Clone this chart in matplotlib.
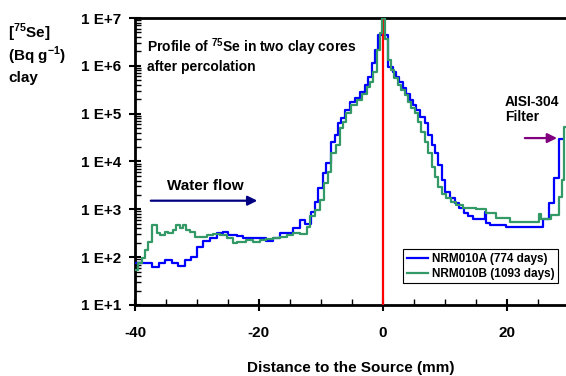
import matplotlib
matplotlib.use("Agg")
import matplotlib.pyplot as plt
import numpy as np
from matplotlib.ticker import FixedLocator, LogLocator, NullFormatter, FuncFormatter

plt.rcParams['font.family'] = ['Liberation Sans', 'DejaVu Sans']
plt.rcParams['font.weight'] = 'bold'
plt.rcParams['mathtext.fontset'] = 'custom'
plt.rcParams['mathtext.rm'] = 'Liberation Sans:bold'
plt.rcParams['mathtext.bf'] = 'Liberation Sans:bold'

# step edges (mm) and log10 of activity (Bq/g clay)
edges_a = [-40, -37.3, -36.2, -35.2, -34.1, -33.0, -31.9, -30.9, -30.0, -29.0,
           -27.9, -26.8, -25.8, -25.0, -23.6, -22.5, -18.8, -17.7, -16.6, -14.5,
           -13.4, -12.6, -11.5, -11.0, -10.4, -9.6, -9.1, -8.3, -7.7, -7.2,
           -6.7, -6.1, -5.3, -4.5, -3.7, -2.9, -2.4, -1.8, -1.3, -0.8,
           0.9, 1.7, 2.2, 2.7, 3.3, 3.8, 4.4, 4.9, 5.4, 6.0,
           6.8, 7.3, 7.9, 8.4, 8.9, 9.5, 10.0, 10.8, 11.6, 12.4,
           13.2, 13.8, 14.6, 16.5, 16.7, 17.3, 19.9, 20.8, 23.7, 25.9,
           26.9, 27.7, 28.4, 29.0]
log_a = [1.87, 1.79, 1.87, 1.95, 1.87, 1.81, 1.95, 2.01, 2.22, 2.33,
         2.39, 2.50, 2.53, 2.46, 2.44, 2.39, 2.33, 2.39, 2.50, 2.60,
         2.78, 2.70, 2.95, 3.16, 3.44, 3.75, 3.96, 4.41, 4.55, 4.80,
         4.90, 5.08, 5.25, 5.32, 5.46, 5.60, 5.77, 6.05, 6.33, 6.64,
         5.98, 5.88, 5.77, 5.67, 5.53, 5.42, 5.28, 5.18, 5.08, 4.94,
         4.80, 4.55, 4.34, 4.17, 3.93, 3.61, 3.37, 3.23, 3.13, 3.02,
         2.92, 2.85, 2.79, 2.95, 2.71, 2.67, 2.64, 2.64, 2.62, 2.80,
         3.13, 3.65, 4.48]

edges_b = [-40, -39.5, -38.9, -38.4, -37.9, -37.3, -36.5, -36.0, -35.2, -34.6,
           -33.8, -33.3, -32.7, -32.2, -31.7, -31.1, -30.3, -28.4, -27.4, -26.3,
           -25.2, -24.1, -23.6, -22.0, -20.9, -19.8, -18.8, -17.7, -16.6, -15.5,
           -14.5, -13.4, -12.3, -11.8, -11.0, -10.2, -9.4, -8.8, -8.3, -7.5,
           -6.9, -6.4, -5.9, -5.1, -4.2, -3.4, -2.6, -2.1, -1.6, -1.0,
           -0.5, -0.05, 0.3, 0.86, 1.4, 1.9, 2.5, 3.0, 3.6, 4.1,
           4.6, 5.2, 5.7, 6.2, 6.8, 7.3, 7.9, 8.4, 8.9, 9.5,
           10.3, 11.1, 11.9, 13.0, 15.1, 16.7, 18.3, 20.5, 25.3, 25.6,
           27.2, 28.4, 28.9, 29.2, 29.5]
log_b = [1.73, 1.87, 1.98, 2.15, 2.32, 2.67, 2.50, 2.47, 2.52, 2.50,
         2.57, 2.67, 2.60, 2.67, 2.57, 2.53, 2.43, 2.46, 2.48, 2.46,
         2.39, 2.29, 2.32, 2.35, 2.32, 2.35, 2.37, 2.39, 2.43, 2.46,
         2.50, 2.48, 2.64, 2.85, 2.99, 3.19, 3.54, 3.79, 4.17, 4.34,
         4.69, 4.83, 5.01, 5.18, 5.28, 5.42, 5.56, 5.67, 5.88, 6.33,
         6.68, 7.00, 6.57, 6.12, 5.91, 5.74, 5.60, 5.49, 5.39, 5.25,
         5.11, 5.01, 4.83, 4.62, 4.41, 4.17, 3.89, 3.68, 3.47, 3.33,
         3.23, 3.16, 3.09, 3.02, 3.00, 2.92, 2.81, 2.74, 2.90, 2.80,
         2.88, 3.26, 3.61, 4.73]

label_a = 'NRM010A (774 days)'
label_b = 'NRM010B (1093 days)'
x_ticks = [-40, -20, 0, 20]
y_exps = [1, 2, 3, 4, 5, 6, 7]

fig = plt.figure(figsize=(5.66, 3.76), dpi=100)
ax = fig.add_axes([0.2385, 0.189, 0.7615, 0.763])

ya = 10 ** np.array(log_a + [log_a[-1]])
yb = 10 ** np.array(log_b + [log_b[-1]])
ax.step(edges_a, ya, where='post', color='#0000ff', lw=1.6, label=label_a, zorder=3)
ax.axvline(0, color='#ff0000', lw=1.6, zorder=3.5)
ax.step(edges_b, yb, where='post', color='#339966', lw=1.6, label=label_b, zorder=4)

ax.set_yscale('log')
ax.set_ylim(10, 1e7)
ax.set_xlim(-40, 29.6)

ax.yaxis.set_major_locator(FixedLocator([10.0 ** e for e in y_exps]))
ax.yaxis.set_major_formatter(FuncFormatter(lambda v, p: '1 E+%d' % round(np.log10(v))))
ax.yaxis.set_minor_locator(LogLocator(base=10, subs=np.arange(2, 10), numticks=20))
ax.yaxis.set_minor_formatter(NullFormatter())
ax.set_xticks(x_ticks)
ax.set_xticklabels([str(t) for t in x_ticks])
ax.set_xticks(np.arange(-35, 30, 5), minor=True)

ax.tick_params(axis='both', which='major', direction='inout', length=8, width=1.5,
               labelsize=11)
ax.tick_params(axis='both', which='minor', direction='in', length=4, width=1.0)
ax.tick_params(axis='x', which='major', pad=11)
ax.tick_params(axis='y', which='major', pad=6)

for s in ['left', 'bottom', 'top']:
    ax.spines[s].set_linewidth(2)
ax.spines['right'].set_visible(False)

ax.set_xlabel('Distance to the Source (mm)', fontsize=11, fontweight='bold', labelpad=15)

fig.text(8 / 566, 1 - 33 / 376, r'[$^{75}$Se]', fontsize=11, va='center', ha='left')
fig.text(8 / 566, 1 - 56 / 376, r'(Bq g$^{-1}$)', fontsize=11, va='center', ha='left')
fig.text(8 / 566, 1 - 78 / 376, 'clay', fontsize=11, va='center', ha='left')

ax.text(-38.1, 10 ** 6.38, r'Profile of $^{75}$Se in two clay cores', fontsize=10,
        va='center', ha='left')
ax.text(-38.1, 10 ** 5.98, 'after percolation', fontsize=10, va='center', ha='left')

ax.text(-28.7, 10 ** 3.49, 'Water flow', fontsize=11, ha='center', va='center')
ax.annotate('', xy=(-19.8, 10 ** 3.18), xytext=(-37.9, 10 ** 3.18),
            arrowprops=dict(arrowstyle='-|>', color='#000080', lw=1.6, mutation_scale=14))

ax.text(19.7, 10 ** 5.08, 'AISI-304\nFilter', fontsize=10, ha='left', va='center',
        linespacing=1.1)
ax.annotate('', xy=(28.6, 10 ** 4.49), xytext=(22.5, 10 ** 4.49),
            arrowprops=dict(arrowstyle='-|>', color='#800080', lw=1.6, mutation_scale=14))

leg = ax.legend(loc='lower right', bbox_to_anchor=(0.981, 0.0756), fontsize=8.5,
                frameon=True, fancybox=False, edgecolor='black', framealpha=1,
                handlelength=1.8, handletextpad=0.3, labelspacing=0.25,
                borderpad=0.3, borderaxespad=0)
leg.get_frame().set_linewidth(0.8)

fig.savefig('out.png', dpi=100)
